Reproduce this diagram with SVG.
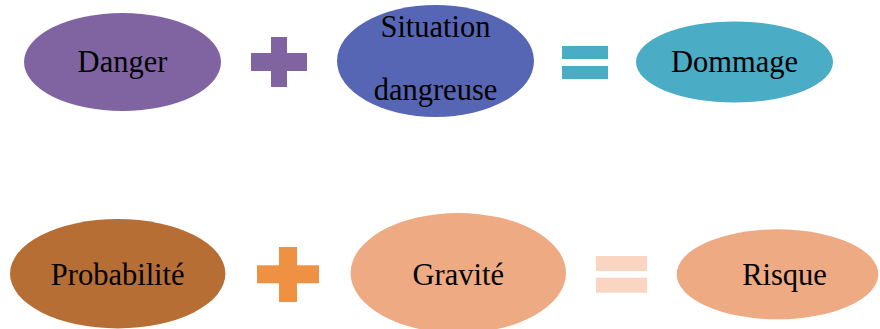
<svg xmlns="http://www.w3.org/2000/svg" width="880" height="329" viewBox="0 0 880 329">
<style>
text{font-family:"Liberation Serif","Times New Roman",serif;font-size:30.5px;fill:#000;text-anchor:middle}
</style>
<rect width="880" height="329" fill="#fff"/>
<g id="danger"><ellipse cx="122.5" cy="62" rx="98.5" ry="49" fill="#8064A2"/><text x="122.5" y="72">Danger</text></g>
<g id="plus1" fill="#8064A2"><rect x="271" y="37" width="16" height="50"/><rect x="251" y="53" width="56" height="18"/></g>
<g id="situation"><ellipse cx="435.5" cy="61" rx="98.5" ry="56" fill="#5766B4"/><text x="435.5" y="37">Situation</text><text x="435.5" y="100">dangreuse</text></g>
<g id="equals1" fill="#4BACC6"><rect x="562" y="46" width="46" height="13"/><rect x="562" y="66" width="46" height="13"/></g>
<g id="dommage"><ellipse cx="734.5" cy="62" rx="98.5" ry="40.5" fill="#4BACC6"/><text x="734.5" y="72">Dommage</text></g>
<g id="probabilite"><ellipse cx="117.7" cy="273.7" rx="107.7" ry="54.7" fill="#B66E35"/><text x="117.7" y="285">Probabilité</text></g>
<g id="plus2" fill="#EE9142"><rect x="279" y="247" width="18" height="55"/><rect x="257" y="265.3" width="62" height="18"/></g>
<g id="gravite"><ellipse cx="458.3" cy="273" rx="107.7" ry="60" fill="#EEAA82"/><text x="458.3" y="285">Gravité</text></g>
<g id="equals2" fill="#FAD5C1"><rect x="596" y="256" width="51" height="15"/><rect x="596" y="277.7" width="51" height="15"/></g>
<g id="risque"><ellipse cx="777.5" cy="274.3" rx="100.8" ry="45" fill="#EEAA82"/><text x="784.5" y="285">Risque</text></g>
<g id="connectors"></g>
</svg>
